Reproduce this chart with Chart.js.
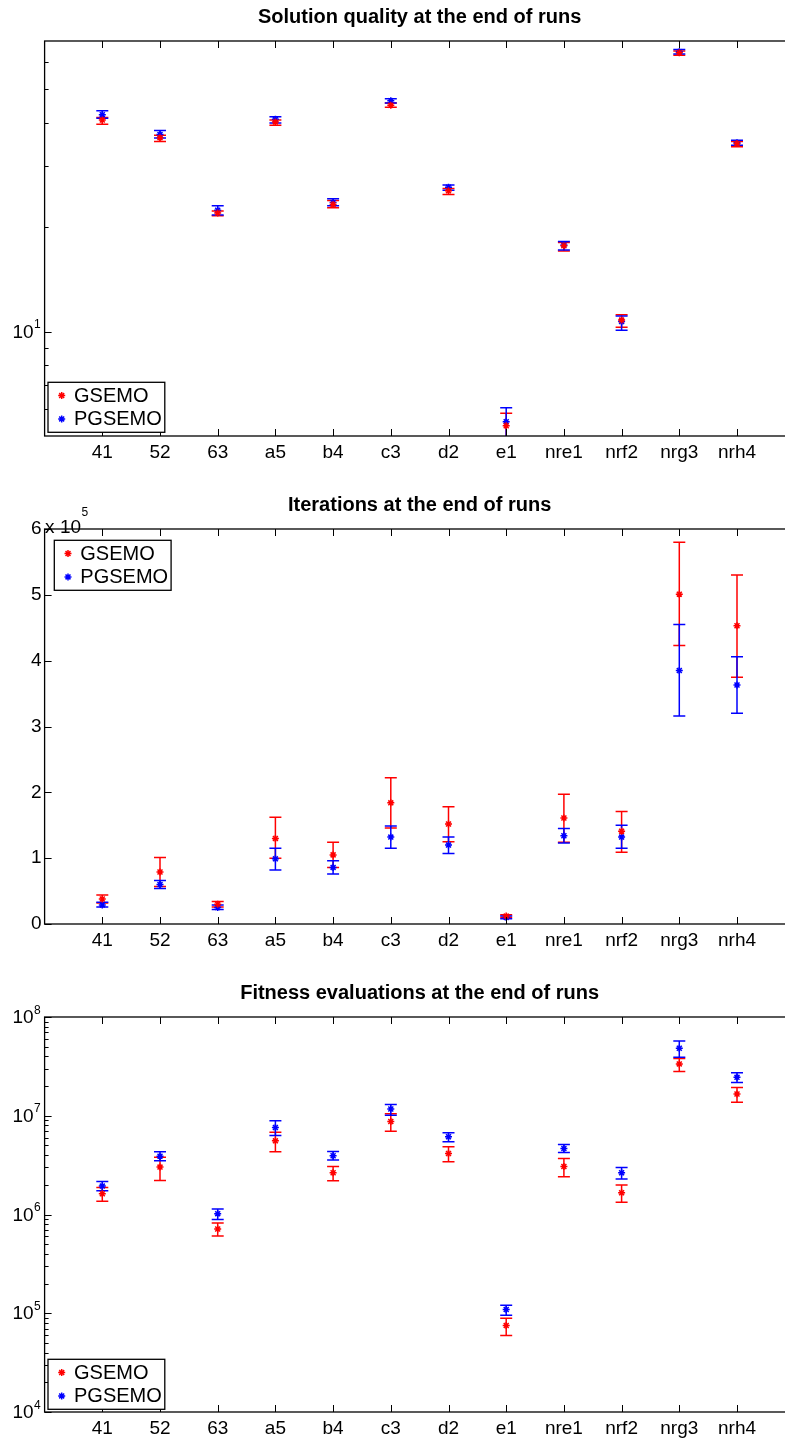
<!DOCTYPE html>
<html>
<head>
<meta charset="utf-8">
<script src="https://cdn.jsdelivr.net/npm/chart.js@4.4.1/dist/chart.umd.min.js"></script>
<style>
  html, body { margin: 0; padding: 0; background: #fff; overflow: hidden; width: 785px; height: 1438px; }
  canvas { position: absolute; left: 0; }
</style>
</head>
<body>
<canvas id="quality_chart" width="840" height="462" style="top:0px"></canvas>
<canvas id="iter_chart" width="840" height="462" style="top:488px"></canvas>
<canvas id="eval_chart" width="840" height="462" style="top:976px"></canvas>
<script>
const red = "#ff0000";
const blue = "#0000ff";

const categories = ["41", "52", "63", "a5", "b4", "c3", "d2", "e1", "nre1", "nrf2", "nrg3", "nrh4"];

// solution quality (log axis)
const quality_gsemo = [40.8, 36.3, 22.0, 40.3, 23.3, 45.0, 25.5, 5.35, 17.7, 10.8, 63.8, 34.9];
const quality_gsemo_lo = [39.7, 35.4, 21.6, 39.4, 22.8, 44.4, 24.9, 4.88, 17.1, 10.3, 62.8, 34.2];
const quality_gsemo_hi = [41.5, 36.9, 22.3, 40.8, 23.9, 45.7, 25.9, 5.82, 18.1, 11.2, 64.6, 35.4];
const quality_pgsemo = [42.3, 37.1, 22.4, 41.0, 23.6, 46.4, 26.1, 5.50, 17.8, 10.7, 64.2, 35.1];
const quality_pgsemo_lo = [41.3, 36.2, 21.7, 40.0, 23.1, 45.7, 25.6, 4.97, 17.2, 10.1, 63.3, 34.5];
const quality_pgsemo_hi = [43.4, 38.1, 23.1, 41.7, 24.2, 47.0, 26.5, 6.03, 18.2, 11.1, 65.2, 35.7];

// iterations
const iter_gsemo = [38000, 79000, 30000, 130000, 105000, 184000, 152000, 12000, 161000, 141000, 501000, 453000];
const iter_gsemo_lo = [32000, 57000, 26000, 100000, 86000, 146000, 125000, 10000, 124000, 109000, 423000, 375000];
const iter_gsemo_hi = [44000, 101000, 34000, 162000, 124000, 222000, 178000, 14000, 197000, 171000, 580000, 530000];
const iter_pgsemo = [29000, 60000, 25000, 99000, 86000, 132000, 120000, 10000, 134000, 132000, 385000, 363000];
const iter_pgsemo_lo = [26000, 54000, 22000, 82000, 76000, 115000, 107000, 8000, 123000, 115000, 316000, 320000];
const iter_pgsemo_hi = [33000, 66000, 29000, 115000, 96000, 149000, 132000, 12000, 145000, 150000, 455000, 406000];

// fitness evaluations (log axis)
const evals_gsemo = [1.62e6, 3.02e6, 7.13e5, 5.57e6, 2.65e6, 8.74e6, 4.15e6, 7.51e4, 3.06e6, 1.66e6, 3.35e7, 1.66e7];
const evals_gsemo_lo = [1.36e6, 2.21e6, 6.06e5, 4.31e6, 2.20e6, 6.98e6, 3.42e6, 5.95e4, 2.41e6, 1.33e6, 2.80e7, 1.37e7];
const evals_gsemo_hi = [1.88e6, 3.81e6, 8.2e5, 6.82e6, 3.06e6, 1.045e7, 4.85e6, 8.9e4, 3.69e6, 1.99e6, 3.79e7, 1.93e7];
const evals_pgsemo = [1.94e6, 3.90e6, 1.02e6, 7.60e6, 3.94e6, 1.17e7, 6.12e6, 1.09e5, 4.66e6, 2.65e6, 4.82e7, 2.45e7];
const evals_pgsemo_lo = [1.74e6, 3.50e6, 8.9e5, 6.31e6, 3.56e6, 1.01e7, 5.45e6, 9.55e4, 4.25e6, 2.29e6, 3.91e7, 2.17e7];
const evals_pgsemo_hi = [2.16e6, 4.31e6, 1.135e6, 8.88e6, 4.34e6, 1.30e7, 6.71e6, 1.205e5, 5.12e6, 2.99e6, 5.72e7, 2.73e7];

Chart.defaults.font.family = "'Liberation Sans', Arial, sans-serif";
Chart.defaults.color = "#000";

const tickFont = 19;
const legendFont = 20;

// vertical error bars with caps, drawn under the markers
const errorBars = {
    id: 'errorBars',
    beforeDatasetsDraw(chart) {
        const { ctx, chartArea: a, scales } = chart;
        ctx.save();
        ctx.beginPath();
        ctx.rect(a.left, a.top, a.right - a.left, a.bottom - a.top);
        ctx.clip();
        ctx.lineWidth = 1.5;
        chart.data.datasets.forEach(ds => {
            ctx.strokeStyle = ds.pointBorderColor;
            ds.lo.forEach((lo, i) => {
                const x = scales.x.getPixelForValue(i + 1);
                const y0 = scales.y.getPixelForValue(lo);
                const y1 = scales.y.getPixelForValue(ds.hi[i]);
                ctx.beginPath();
                ctx.moveTo(x, y0); ctx.lineTo(x, y1);
                ctx.moveTo(x - 6, y0); ctx.lineTo(x + 6, y0);
                ctx.moveTo(x - 6, y1); ctx.lineTo(x + 6, y1);
                ctx.stroke();
            });
        });
        ctx.restore();
    }
};

// matlab style box, inward ticks, 10^n labels and boxed legend
const matlabAxes = {
    id: 'matlabAxes',
    afterDraw(chart, args, opts) {
        const { ctx, chartArea: a, scales } = chart;
        ctx.save();
        ctx.strokeStyle = "#000";
        ctx.lineWidth = 1;
        ctx.beginPath();
        categories.forEach((c, i) => {
            const x = Math.round(scales.x.getPixelForValue(i + 1)) + 0.5;
            ctx.moveTo(x, a.bottom); ctx.lineTo(x, a.bottom - 7);
            ctx.moveTo(x, a.top); ctx.lineTo(x, a.top + 7);
        });
        opts.yTicks.forEach(t => {
            const y = Math.round(scales.y.getPixelForValue(t.v)) + 0.5;
            const len = t.major ? 7 : 4;
            ctx.moveTo(a.left, y); ctx.lineTo(a.left + len, y);
            ctx.moveTo(a.right, y); ctx.lineTo(a.right - len, y);
        });
        ctx.stroke();
        ctx.lineWidth = 1.3;
        ctx.strokeRect(a.left, a.top, a.right - a.left, a.bottom - a.top);

        ctx.fillStyle = "#000";
        (opts.powLabels || []).forEach(p => {
            const y = scales.y.getPixelForValue(p.v);
            ctx.font = tickFont + "px 'Liberation Sans', Arial, sans-serif";
            ctx.textAlign = 'right';
            ctx.textBaseline = 'middle';
            ctx.fillText('10', a.left - 11, y + 1);
            ctx.font = "12px 'Liberation Sans', Arial, sans-serif";
            ctx.textAlign = 'left';
            ctx.textBaseline = 'alphabetic';
            ctx.fillText(p.exp, a.left - 10.5, y - 3.5);
        });
        if (opts.multiplier) {
            ctx.font = tickFont + "px 'Liberation Sans', Arial, sans-serif";
            ctx.textAlign = 'left';
            ctx.textBaseline = 'alphabetic';
            const base = 'x 10';
            ctx.fillText(base, a.left + 0.5, a.top + 4);
            const w = ctx.measureText(base).width;
            ctx.font = "12px 'Liberation Sans', Arial, sans-serif";
            ctx.fillText(opts.multiplier, a.left + 1 + w, a.top - 13);
        }

        // legend box
        const lg = opts.legend;
        ctx.font = legendFont + "px 'Liberation Sans', Arial, sans-serif";
        const textW = Math.max(...chart.data.datasets.map(ds => ctx.measureText(ds.label).width));
        const bw = 26 + textW + 3;
        const bh = 50;
        const bx = a.left + lg.dx;
        const by = lg.top !== undefined ? a.top + lg.top : a.bottom - lg.bottom - bh;
        ctx.fillStyle = "#fff";
        ctx.fillRect(bx, by, bw, bh);
        ctx.lineWidth = 1.3;
        ctx.strokeStyle = "#000";
        ctx.strokeRect(bx, by, bw, bh);
        chart.data.datasets.forEach((ds, k) => {
            const y = by + 13.3 + 23.3 * k;
            ctx.strokeStyle = ds.pointBorderColor;
            ctx.lineWidth = 1.5;
            Chart.helpers.drawPoint(ctx, { pointStyle: 'star', radius: 3.5, borderWidth: 1.5, rotation: 0 }, bx + 13.7, y);
            ctx.fillStyle = "#000";
            ctx.textAlign = 'left';
            ctx.textBaseline = 'middle';
            ctx.fillText(ds.label, bx + 26, y + 1);
        });
        ctx.restore();
    }
};

function seriesData(values) {
    return values.map((v, i) => ({ x: i + 1, y: v }));
}

function makeDataset(label, color, mean, lo, hi) {
    return {
        label: label,
        data: seriesData(mean),
        lo: lo,
        hi: hi,
        showLine: false,
        pointStyle: 'star',
        pointRadius: 3.5,
        pointBorderWidth: 1.5,
        pointBorderColor: color,
        pointBackgroundColor: color,
        borderColor: color,
        backgroundColor: color
    };
}

function makeChart(id, title, yScale, datasets, axisOpts) {
    yScale.afterFit = s => { s.width = 44.6; };
    yScale.grid = { display: false, drawTicks: false };
    yScale.border = { display: false };
    return new Chart(document.getElementById(id), {
        type: 'scatter',
        data: { datasets: datasets },
        options: {
            responsive: false,
            animation: false,
            events: [],
            layout: { padding: { left: 0, right: 45.3, top: 0, bottom: 0 } },
            scales: {
                x: {
                    type: 'linear',
                    min: 0,
                    max: 13,
                    afterBuildTicks: s => { s.ticks = categories.map((c, i) => ({ value: i + 1 })); },
                    afterFit: s => { s.height = 26; },
                    ticks: {
                        callback: v => categories[v - 1],
                        font: { size: tickFont },
                        padding: 5,
                        maxRotation: 0,
                        autoSkip: false
                    },
                    grid: { display: false, drawTicks: false },
                    border: { display: false }
                },
                y: yScale
            },
            plugins: {
                legend: { display: false },
                tooltip: { enabled: false },
                title: {
                    display: true,
                    text: title,
                    fullSize: false,
                    font: { size: 20, weight: 'bold' },
                    padding: { top: 5, bottom: 12 }
                },
                matlabAxes: axisOpts
            }
        },
        plugins: [errorBars, matlabAxes]
    });
}

function logTicks(lowDecade, highDecade) {
    const ticks = [];
    for (let d = lowDecade; d <= highDecade; d++) {
        const base = Math.pow(10, d);
        ticks.push({ v: base, major: true });
        if (d < highDecade) {
            for (let m = 2; m <= 9; m++) ticks.push({ v: m * base, major: false });
        }
    }
    return ticks;
}

const quality_chart = makeChart('quality_chart', 'Solution quality at the end of runs',
    { type: 'logarithmic', min: 5, max: 69, ticks: { display: false } },
    [
        makeDataset('GSEMO', red, quality_gsemo, quality_gsemo_lo, quality_gsemo_hi),
        makeDataset('PGSEMO', blue, quality_pgsemo, quality_pgsemo_lo, quality_pgsemo_hi)
    ],
    {
        yTicks: [6, 7, 8, 9, 20, 30, 40, 50, 60].map(v => ({ v: v, major: false })).concat([{ v: 10, major: true }]),
        powLabels: [{ v: 10, exp: '1' }],
        legend: { dx: 3.4, bottom: 3.7 }
    });

const iter_chart = makeChart('iter_chart', 'Iterations at the end of runs',
    {
        type: 'linear', min: 0, max: 600000,
        ticks: { stepSize: 100000, callback: v => v / 100000, font: { size: tickFont }, padding: 3 }
    },
    [
        makeDataset('GSEMO', red, iter_gsemo, iter_gsemo_lo, iter_gsemo_hi),
        makeDataset('PGSEMO', blue, iter_pgsemo, iter_pgsemo_lo, iter_pgsemo_hi)
    ],
    {
        yTicks: [0, 1, 2, 3, 4, 5, 6].map(v => ({ v: v * 100000, major: true })),
        multiplier: '5',
        legend: { dx: 9.7, top: 11.3 }
    });

const eval_chart = makeChart('eval_chart', 'Fitness evaluations at the end of runs',
    { type: 'logarithmic', min: 1e4, max: 1e8, ticks: { display: false } },
    [
        makeDataset('GSEMO', red, evals_gsemo, evals_gsemo_lo, evals_gsemo_hi),
        makeDataset('PGSEMO', blue, evals_pgsemo, evals_pgsemo_lo, evals_pgsemo_hi)
    ],
    {
        yTicks: logTicks(4, 8),
        powLabels: [4, 5, 6, 7, 8].map(e => ({ v: Math.pow(10, e), exp: String(e) })),
        legend: { dx: 3.4, bottom: 2.7 }
    });
</script>
</body>
</html>
